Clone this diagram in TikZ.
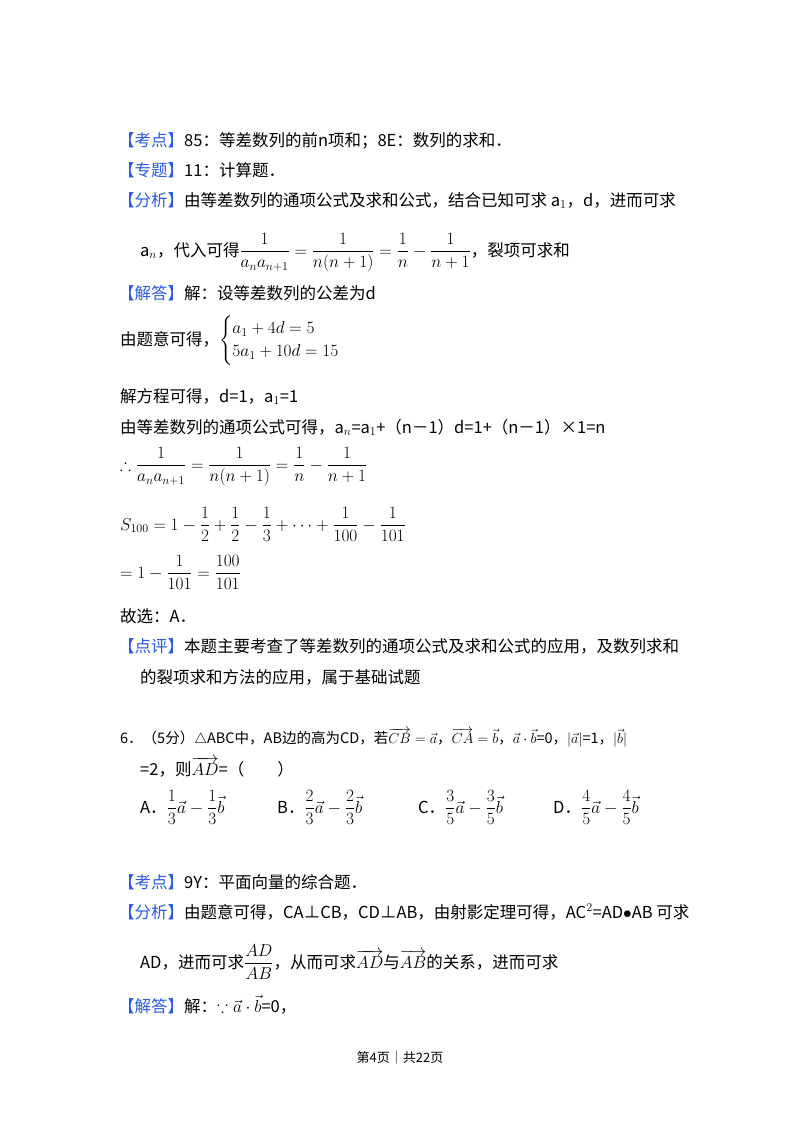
\documentclass[tikz,border=0pt]{standalone}
\usepackage{amsmath,amssymb}
\usepackage{fontspec}
\setmainfont{Noto Sans CJK SC}
\definecolor{kb}{RGB}{40,90,230}
\newcommand{\kh}[1]{\textcolor{kb}{【#1】}}
\newcommand{\va}{\vec{a}}
\newcommand{\vb}{\vec{b}}
\begin{document}
\begin{tikzpicture}[x=1pt,y=-1pt,t/.style={anchor=base west,inner sep=0pt,font=\fontsize{16.5}{19}\selectfont},s/.style={anchor=base west,inner sep=0pt,font=\fontsize{14.5}{17}\selectfont}]
\useasboundingbox (0,0) rectangle (800,1133);
\fill[white] (0,0) rectangle (800,1133);
\node[t] (l1) at (118,146) {\kh{考点}85：等差数列的前n项和；8E：数列的求和．};
\node[t] (l2) at (118,176) {\kh{专题}11：计算题．};
\node[t] (l3) at (118,206) {\kh{分析}由等差数列的通项公式及求和公式，结合已知可求 a$_1$，d，进而可求};
\node[t] (l4) at (140,256) {a$_n$，代入可得$\dfrac{1}{a_na_{n+1}}=\dfrac{1}{n(n+1)}=\dfrac{1}{n}-\dfrac{1}{n+1}$，裂项可求和};
\node[t] (l5) at (118,299) {\kh{解答}解：设等差数列的公差为d};
\node[t] (l6) at (120,345) {由题意可得，$\begin{cases}a_1+4d=5\\5a_1+10d=15\end{cases}$};
\node[t] (l7) at (120,402) {解方程可得，d=1，a$_1$=1};
\node[t] (l8) at (120,433) {由等差数列的通项公式可得，a$_n$=a$_1$+（n－1）d=1+（n－1）×1=n};
\node[t] (l9) at (120,470) {$\therefore\dfrac{1}{a_na_{n+1}}=\dfrac{1}{n(n+1)}=\dfrac{1}{n}-\dfrac{1}{n+1}$};
\node[t] (l10) at (120,530) {$S_{100}=1-\dfrac{1}{2}+\dfrac{1}{2}-\dfrac{1}{3}+\cdots+\dfrac{1}{100}-\dfrac{1}{101}$};
\node[t] (l11) at (120,578) {$=1-\dfrac{1}{101}=\dfrac{100}{101}$};
\node[t] (l12) at (120,622) {故选：A．};
\node[t] (l13) at (118,652) {\kh{点评}本题主要考查了等差数列的通项公式及求和公式的应用，及数列求和};
\node[t] (l14) at (140,683) {的裂项求和方法的应用，属于基础试题};
\node[s] (q1) at (120,743) {6．（5分）$\triangle$ABC中，AB边的高为CD，若$\overrightarrow{CB}=\va$，$\overrightarrow{CA}=\vb$，$\va\cdot\vb$=0，$|\va|$=1，$|\vb|$};
\node[t] (q2) at (140,775) {=2，则$\overrightarrow{AD}$=（\quad\quad）};
\node[t] (oa) at (140,813) {A．$\dfrac{1}{3}\va-\dfrac{1}{3}\vb$};
\node[t] (ob) at (277,813) {B．$\dfrac{2}{3}\va-\dfrac{2}{3}\vb$};
\node[t] (oc) at (418,813) {C．$\dfrac{3}{5}\va-\dfrac{3}{5}\vb$};
\node[t] (od) at (553,813) {D．$\dfrac{4}{5}\va-\dfrac{4}{5}\vb$};
\node[t] (m1) at (118,888) {\kh{考点}9Y：平面向量的综合题．};
\node[t] (m2) at (118,918) {\kh{分析}由题意可得，CA⊥CB，CD⊥AB，由射影定理可得，AC$^2$=AD$\bullet$AB 可求};
\node[t] (m3) at (140,968) {AD，进而可求$\dfrac{AD}{AB}$，从而可求$\overrightarrow{AD}$与$\overrightarrow{AB}$的关系，进而可求};
\node[t] (m4) at (118,1012) {\kh{解答}解：$\because\va\cdot\vb$=0，};
\node[anchor=base,inner sep=0pt,font=\fontsize{13}{15}\selectfont] (ft) at (400,1062) {第4页｜共22页};
\end{tikzpicture}
\end{document}
